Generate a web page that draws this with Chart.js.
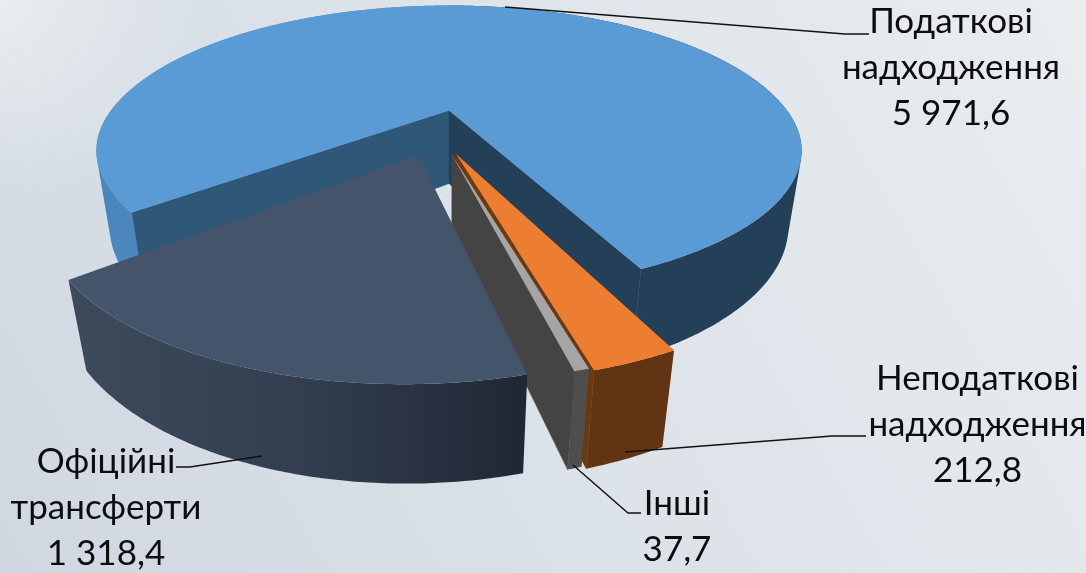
<!DOCTYPE html>
<html><head><meta charset="utf-8">
<script src="https://cdn.jsdelivr.net/npm/chart.js@4"></script>
<style>
html,body{margin:0;padding:0;width:1086px;height:573px;overflow:hidden}
body{background:radial-gradient(circle at 0 0,#e9edef 0,rgba(233,237,239,0) 200px),linear-gradient(60deg,#cfd7e1 0%,#dbe1e8 42%,#e9edf0 100%)}
canvas{display:block}
</style></head><body>
<canvas id="c" width="1086" height="573"></canvas>
<script>
const categories = ["Податкові надходження","Неподаткові надходження","Інші","Офіційні трансферти"];
const values = [5971.6,212.8,37.7,1318.4];
const valueLabels = ["5 971,6","212,8","37,7","1 318,4"];
const labelLines = [["Податкові","надходження"],["Неподаткові","надходження"],["Інші"],["Офіційні","трансферти"]];
const colors = ["#5b9bd5","#ed7d31","#a5a5a5","#44546a"];

const view = {cx:449,cy:110.5,a:338,b:136.5,k:0.3,h:75.5,m:0.036};
const look = {
  shift:[[0,0],[0.019,0.291],[0.008,0.297],[-0.0835,0.297]],
  scale:[1,0.955,0.945,0.955],
  nearSquash:[0.95,1,1,1],
  tweak:[[1,1],[0,0.3],[0,0],[0,1.5]],
  font:'35px Lato',
  lineGap:46,
  labelPos:[[951,33],[977.5,390],[677,515],[106,473]],
  leaders:[
    [[505,7],[845,34],[869,34]],
    [[625,452],[832,436],[866,436]],
    [[573,465],[628,513],[641,513]],
    [[262,456],[190,467],[176,467]]
  ]
};
const D=Math.PI/180;
function proj(X,Y,Z){
  const w=1-view.k*Y+view.m*Z;
  return [view.cx+view.a*X/w, view.cy+(view.b*Y+view.h*Z)/w];
}
function pt(i,t,r,Z){
  const s=look.shift[i],q=look.scale[i];
  let dy=q*r*Math.sin(t);
  if(dy>0)dy*=look.nearSquash[i];
  return proj(s[0]+q*r*Math.cos(t), s[1]+dy, Z);
}
function addPath(ctx,pts){
  pts.forEach((p,j)=>j?ctx.lineTo(p[0],p[1]):ctx.moveTo(p[0],p[1]));
  ctx.closePath();
}
function poly(ctx,pts,fill){ctx.beginPath();addPath(ctx,pts);ctx.fillStyle=fill;ctx.fill();}
function arcPts(i,a0,a1,Z){
  const n=Math.max(2,Math.ceil(Math.abs(a1-a0)/0.01)),o=[];
  for(let j=0;j<=n;j++)o.push(pt(i,a0+(a1-a0)*j/n,1,Z));
  return o;
}
function span(i,a){return [a.startAngle+look.tweak[i][0]*D,a.endAngle+look.tweak[i][1]*D];}
function face(ctx,i,a){const s=span(i,a);poly(ctx,[pt(i,0,0,0),...arcPts(i,s[0],s[1],0)],colors[i]);}
function area(q){let s=0;q.forEach((p,j)=>{const n=q[(j+1)%q.length];s+=p[0]*n[1]-n[0]*p[1];});return s;}
function rim(ctx,i,a0,a1,fill){
  const T=arcPts(i,a0,a1,0),B=arcPts(i,a0,a1,1);
  ctx.beginPath();
  for(let j=0;j<T.length-1;j++){
    const q=[T[j],T[j+1],B[j+1],B[j]];
    if(area(q)<0)q.reverse();
    addPath(ctx,q);
  }
  ctx.fillStyle=fill;ctx.fill();
}
function wall(ctx,i,t,fill){
  ctx.beginPath();addPath(ctx,[pt(i,0,0,0),pt(i,t,1,0),pt(i,t,1,1),pt(i,0,0,1)]);
  ctx.fillStyle=fill;ctx.strokeStyle=fill;ctx.lineWidth=0.6;ctx.fill();ctx.stroke();
}
function grad(ctx,x0,x1,stops){
  const g=ctx.createLinearGradient(x0,0,x1,0);
  stops.forEach((c,j)=>g.addColorStop(j/(stops.length-1),c));return g;
}
const pie3d={
  id:'pie3d',
  beforeDatasetDraw(){return false;},
  afterDatasetsDraw(chart){
    const ctx=chart.ctx,arcs=chart.getDatasetMeta(0).data;
    const [tax,non,oth,tr]=arcs;
    const sT=span(0,tax),sN=span(1,non),sO=span(2,oth),sR=span(3,tr);
    ctx.save();
    const far=1.5*Math.PI;
    rim(ctx,0,sT[0],far,grad(ctx,100,200,["#4a86bb","#4f8dc3"]));
    rim(ctx,0,far,sT[1],"#243f58");
    wall(ctx,0,sT[0],"#2f5778");
    wall(ctx,0,sT[1],"#243f58");
    face(ctx,0,tax);
    wall(ctx,1,sN[1],"#6b3810");
    wall(ctx,2,sO[1],"#444444");
    rim(ctx,2,sO[0],sO[1],"#4e4e4e");
    face(ctx,2,oth);
    rim(ctx,1,sN[0],sN[1],"#633413");
    face(ctx,1,non);
    rim(ctx,3,sR[0],sR[1],grad(ctx,70,525,["#3c4a5c","#333f51","#1f2733"]));
    face(ctx,3,tr);
    ctx.strokeStyle="#111";ctx.lineWidth=1.4;
    look.leaders.forEach(l=>{ctx.beginPath();l.forEach((p,j)=>j?ctx.lineTo(p[0],p[1]):ctx.moveTo(p[0],p[1]));ctx.stroke();});
    ctx.fillStyle="#0d0d0d";ctx.font=look.font;ctx.textAlign="center";ctx.textBaseline="alphabetic";
    labelLines.forEach((ls,i)=>{
      const p=look.labelPos[i];
      [...ls,valueLabels[i]].forEach((t,j)=>ctx.fillText(t,p[0],p[1]+j*look.lineGap));
    });
    ctx.restore();
  }
};
new Chart(document.getElementById('c'),{
  type:'pie',
  data:{labels:categories,datasets:[{data:values,backgroundColor:colors,borderWidth:0}]},
  options:{responsive:false,animation:false,rotation:229,layout:{padding:0},
    plugins:{legend:{display:false},tooltip:{enabled:false}}},
  plugins:[pie3d]
});
</script>
</body></html>
